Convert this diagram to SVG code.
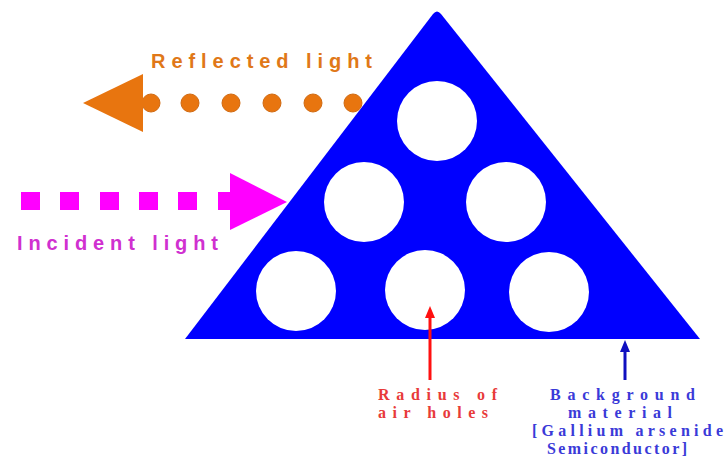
<svg xmlns="http://www.w3.org/2000/svg" width="726" height="461" viewBox="0 0 726 461">
  <style>
    .hole { fill: #ffffff; }
    .dot { fill: #e8750f; stroke: #d06a12; stroke-width: 1; }
    .sq { fill: #ff00ff; }
    .sans { font-family: "Liberation Sans", Arial, sans-serif; font-weight: bold; font-size: 20px; }
    .serif { font-family: "Liberation Serif", "Times New Roman", serif; font-weight: bold; font-size: 16px; }
  </style>
  <rect width="726" height="461" fill="#ffffff"/>

  <g id="crystal">
    <path d="M185,339 L433,14 Q437,9 441,14 L700,339 Z" fill="#0000ff"/>
    <circle class="hole" cx="437" cy="121" r="40"/>
    <circle class="hole" cx="364" cy="202" r="40"/>
    <circle class="hole" cx="506" cy="202" r="40"/>
    <circle class="hole" cx="296" cy="291" r="40"/>
    <circle class="hole" cx="425" cy="290" r="40"/>
    <circle class="hole" cx="549" cy="292" r="40"/>
  </g>

  <g id="reflected-light">
    <circle class="dot" cx="151" cy="103" r="9"/>
    <circle class="dot" cx="190" cy="103" r="9"/>
    <circle class="dot" cx="231" cy="103" r="9"/>
    <circle class="dot" cx="272" cy="103" r="9"/>
    <circle class="dot" cx="313" cy="103" r="9"/>
    <circle class="dot" cx="353" cy="103" r="9"/>
    <path d="M83,103 L143,74 L143,132 Z" fill="#e8750f"/>
    <text class="sans" x="151" y="68" fill="#e07818" textLength="221" lengthAdjust="spacing">Reflected light</text>
  </g>

  <g id="incident-light">
    <rect class="sq" x="21" y="192" width="19" height="18"/>
    <rect class="sq" x="60" y="192" width="19" height="18"/>
    <rect class="sq" x="100" y="192" width="19" height="18"/>
    <rect class="sq" x="139" y="192" width="19" height="18"/>
    <rect class="sq" x="178" y="192" width="19" height="18"/>
    <rect class="sq" x="218" y="192" width="14" height="18"/>
    <path d="M230,173 L287,202 L230,230 Z" fill="#ff00ff"/>
    <text class="sans" x="17" y="250" fill="#d030d0" textLength="201" lengthAdjust="spacing">Incident light</text>
  </g>

  <g id="connectors">
    <line x1="430" y1="380" x2="430" y2="316" stroke="#ff1010" stroke-width="3"/>
    <path d="M425,318 L430,306 L435,318 Z" fill="#ff1010"/>
    <line x1="625" y1="380" x2="625" y2="350" stroke="#1010c0" stroke-width="3"/>
    <path d="M620,352 L625,340 L630,352 Z" fill="#1010c0"/>
  </g>

  <g id="label-radius">
    <text class="serif" x="378" y="400" fill="#e83a3a" textLength="119" lengthAdjust="spacing">Radius of</text>
    <text class="serif" x="378" y="418" fill="#e83a3a" textLength="110" lengthAdjust="spacing">air holes</text>
  </g>

  <g id="label-background">
    <text class="serif" x="550" y="400" fill="#3a3ad8" textLength="145" lengthAdjust="spacing">Background</text>
    <text class="serif" x="568" y="418" fill="#3a3ad8" textLength="104" lengthAdjust="spacing">material</text>
    <text class="serif" x="532" y="436" fill="#3a3ad8" textLength="191" lengthAdjust="spacing">[Gallium arsenide</text>
    <text class="serif" x="547" y="454" fill="#3a3ad8" textLength="140" lengthAdjust="spacing">Semiconductor]</text>
  </g>
</svg>
